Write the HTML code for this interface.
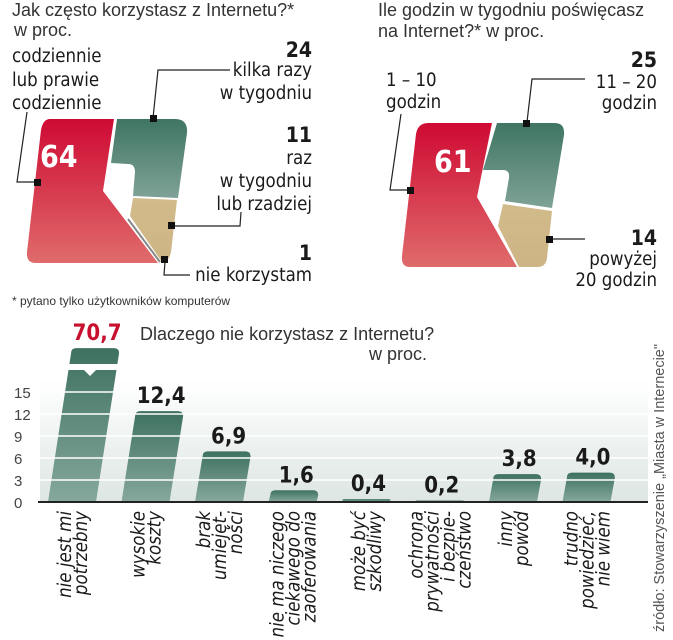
<!DOCTYPE html>
<html><head><meta charset="utf-8"><style>
body{margin:0;background:#fff;}
svg{display:block;font-family:"DejaVu Sans Condensed","Liberation Sans",sans-serif;}
.t{font-family:"Liberation Sans",sans-serif;fill:#333;font-size:18px;}
.l{font-size:18.5px;fill:#1a1a1a;}
.b{font-size:21px;font-weight:bold;fill:#1a1a1a;}
</style></head><body>
<svg width="673" height="640" viewBox="0 0 673 640">
<defs>
<linearGradient id="gr" x1="0" y1="0" x2="0" y2="1"><stop offset="0" stop-color="#cf0a33"/><stop offset="1" stop-color="#df6b6b"/></linearGradient>
<linearGradient id="gg" x1="0" y1="0" x2="0" y2="1"><stop offset="0" stop-color="#3f7562"/><stop offset="1" stop-color="#7fa297"/></linearGradient>
<linearGradient id="gt" x1="0" y1="0" x2="0" y2="1"><stop offset="0" stop-color="#d2bb8a"/><stop offset="1" stop-color="#cdb485"/></linearGradient>
<linearGradient id="gbar" x1="0" y1="0" x2="0" y2="1"><stop offset="0" stop-color="#3e7160"/><stop offset="1" stop-color="#86a89c"/></linearGradient>
<linearGradient id="gbg" x1="0" y1="0" x2="0" y2="1"><stop offset="0" stop-color="#ffffff"/><stop offset="1" stop-color="#dde6e2"/></linearGradient>
</defs>

<g>
<text class="t" x="12" y="16">Jak często korzystasz z Internetu?*</text>
<text class="t" x="14" y="36">w proc.</text>
<path d="M50,119 L114,119 L103,191 L158,263 L36,263 Q26,263 27,252 L41,130 Q43,119 50,119Z" fill="url(#gr)"/>
<path d="M117,119 L175,119 Q188,119 187,133 L178,198 L133,196 L135,172 Q135,164 128,164 L111,163Z" fill="url(#gg)"/>
<path d="M133,198 L177,200 L171,252 Q169,262 162,262 L130,216Z" fill="url(#gt)"/>
<path d="M128,219 L160,262" stroke="#888" stroke-width="2"/>
<text x="40" y="167" font-size="30" font-weight="bold" fill="#fff">64</text>
<text class="l" x="12" y="62">codziennie</text>
<text class="l" x="12" y="86">lub prawie</text>
<text class="l" x="12" y="109">codziennie</text>
<polyline points="27,112 17,182 36,182" fill="none" stroke="#222" stroke-width="1.2"/>
<rect x="34" y="179" width="7" height="7" fill="#111"/>
<text class="b" x="312" y="57" text-anchor="end">24</text>
<text class="l" x="312" y="76" text-anchor="end">kilka razy</text>
<text class="l" x="312" y="99" text-anchor="end">w tygodniu</text>
<polyline points="230,70 158,70 153,118" fill="none" stroke="#222" stroke-width="1.2"/>
<rect x="150" y="115" width="7" height="7" fill="#111"/>
<text class="b" x="312" y="142" text-anchor="end">11</text>
<text class="l" x="312" y="164" text-anchor="end">raz</text>
<text class="l" x="312" y="187" text-anchor="end">w tygodniu</text>
<text class="l" x="312" y="210" text-anchor="end">lub rzadziej</text>
<polyline points="241,212 240,226 175,226" fill="none" stroke="#222" stroke-width="1.2"/>
<rect x="168" y="222" width="7" height="7" fill="#111"/>
<text class="b" x="312" y="260" text-anchor="end">1</text>
<text class="l" x="312" y="281" text-anchor="end">nie korzystam</text>
<polyline points="165,262 164,275 190,275" fill="none" stroke="#222" stroke-width="1.2"/>
<rect x="161" y="256" width="7" height="7" fill="#111"/>
</g>

<g>
<text class="t" x="378" y="16">Ile godzin w tygodniu poświęcasz</text>
<text class="t" x="378" y="37">na Internet?*  w proc.</text>
<path d="M428,123 L492,123 L477,197 L517,267 L410,267 Q401,267 402,256 L416,134 Q418,123 428,123Z" fill="url(#gr)"/>
<path d="M497,123 L555,123 Q565,123 564,135 L552,208 L505,201 L509,178 Q510,170 503,170 L483,170Z" fill="url(#gg)"/>
<path d="M503,204 L552,211 L547,258 Q546,267 537,267 L519,267 L498,226Z" fill="url(#gt)"/>
<text x="434" y="172" font-size="30" font-weight="bold" fill="#fff">61</text>
<text class="l" x="386" y="86">1 – 10</text>
<text class="l" x="386" y="108">godzin</text>
<polyline points="401,114 390,190 410,190" fill="none" stroke="#222" stroke-width="1.2"/>
<rect x="407" y="187" width="7" height="7" fill="#111"/>
<text class="b" x="657" y="67" text-anchor="end">25</text>
<text class="l" x="657" y="88" text-anchor="end">11 – 20</text>
<text class="l" x="657" y="109" text-anchor="end">godzin</text>
<polyline points="585,79 532,79 527,122" fill="none" stroke="#222" stroke-width="1.2"/>
<rect x="523" y="120" width="7" height="7" fill="#111"/>
<text class="b" x="657" y="245" text-anchor="end">14</text>
<text class="l" x="657" y="265" text-anchor="end">powyżej</text>
<text class="l" x="657" y="286" text-anchor="end">20 godzin</text>
<line x1="553" y1="239" x2="585" y2="239" stroke="#222" stroke-width="1.2"/>
<rect x="546" y="236" width="7" height="7" fill="#111"/>
</g>

<text x="12" y="305" font-family="Liberation Sans,sans-serif" font-size="12" fill="#333">* pytano tylko użytkowników komputerów</text>

<g id="bars">
<text class="t" x="140" y="340">Dlaczego nie korzystasz z Internetu?</text>
<text class="t" x="427" y="360" text-anchor="end">w proc.</text>
<rect x="40" y="380" width="608" height="122" fill="url(#gbg)"/>
</g>
<text transform="translate(664,632) rotate(-90)" font-family="Liberation Sans,sans-serif" font-size="14.5" fill="#555">źródło: Stowarzyszenie „Miasta w Internecie"</text>
</svg>
<script>
const categories=[["nie jest mi","potrzebny"],["wysokie","koszty"],["brak","umiejęt-","ności"],["nie ma niczego","ciekawego do","zaoferowania"],["może być","szkodliwy"],["ochrona","prywatności","i bezpie-","czeństwo"],["inny","powód"],["trudno","powiedzieć,","nie wiem"]];
const values=[70.7,12.4,6.9,1.6,0.4,0.2,3.8,4.0];
const valueLabels=["70,7","12,4","6,9","1,6","0,4","0,2","3,8","4,0"];
const ticks=[0,3,6,9,12,15];
const NS="http://www.w3.org/2000/svg";
const g=document.getElementById('bars');
const y0=502,k=7.33,maxV=21;
const y=v=>y0-Math.min(v,maxV)*k;
const xc=i=>72+i*73.5;
function el(t,a){const e=document.createElementNS(NS,t);for(const n in a)e.setAttribute(n,a[n]);g.appendChild(e);return e;}
values.forEach((v,i)=>{
  const h=y0-y(v),sk=h*0.15,w=48,x=xc(i)-w/2,r=Math.min(5,h/2);
  const top=y(v);
  const p=el('path',{d:`M${x},${y0} L${x+sk},${top+r} Q${x+sk},${top} ${x+sk+r},${top} L${x+w+sk-r},${top} Q${x+w+sk},${top} ${x+w+sk},${top+r} L${x+w},${y0}Z`,fill:'url(#gbar)'});
  
  
  if(v>maxV){
    const brk=el('path',{d:`M${x},364 L${x+w+30},364 L${x+w+30},370 L${xc(i)+24},370 L${xc(i)+18},376 L${xc(i)+12},370 L${x},370Z`,fill:'#fff'});
    
    
  }
  categories[i].forEach((line,j)=>{
    const n=categories[i].length;
    const lx=xc(i)+(j-(n-1)/2)*16+7;
    const lt=el('text',{transform:`translate(${lx},511) rotate(-90)`,'text-anchor':'end','font-size':'18.5',fill:'#1a1a1a','font-style':'italic'});
    lt.textContent=line;
    
    
  });
});
ticks.forEach(v=>{
  if(v>0){const gl=el('line',{x1:40,x2:648,y1:y(v),y2:y(v),stroke:'#fff','stroke-width':'1.5'});
  
  }
  const t=el('text',{x:14,y:y(v)+6,'font-size':'15',fill:'#444','font-family':'Liberation Sans,sans-serif'});
  t.textContent=v;
  
  
});
values.forEach((v,i)=>{
  const top=y(v),sk=(y0-top)*0.15;
  const t=el('text',{x:xc(i)+sk+2,y:top-8,'text-anchor':'middle','font-size':'22','font-weight':'bold',fill:v>maxV?'#c8102e':'#1a1a1a'});
  t.textContent=valueLabels[i];
  
  
});
const ax=el('line',{x1:38,x2:648,y1:y0,y2:y0,stroke:'#222','stroke-width':'2'});


</script>
</body></html>
